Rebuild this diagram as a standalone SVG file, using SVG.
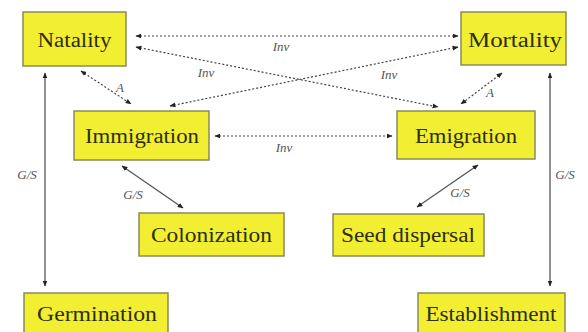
<svg xmlns="http://www.w3.org/2000/svg" width="588" height="332" viewBox="0 0 588 332">
<style>
.box{fill:#f2ef33;stroke:#8c8a5c;stroke-width:1.5}
.t{font-size:20px;fill:#2e2e0a;text-anchor:middle}
.lbl{font-style:italic;font-size:13px;fill:#555;text-anchor:middle}
.dot{stroke:#444;stroke-width:1.2;stroke-dasharray:2 2;fill:none;marker-start:url(#ah);marker-end:url(#ah)}
.sol{stroke:#555;stroke-width:1.3;fill:none;marker-start:url(#ah);marker-end:url(#ah)}
</style>
<defs>
<marker id="ah" viewBox="0 0 10 10" refX="9" refY="5" markerWidth="6" markerHeight="6" markerUnits="userSpaceOnUse" orient="auto-start-reverse">
<path d="M0,1 L10,5 L0,9 z" fill="#222"/>
</marker>
</defs>
<rect width="588" height="332" fill="#fff"/>
<g font-family="Liberation Serif, Times New Roman, serif">
<g id="connectors">
<line class="dot" x1="136" y1="36" x2="458" y2="36"/>
<line class="dot" x1="136" y1="47" x2="438" y2="107"/>
<line class="dot" x1="458" y1="47" x2="170" y2="106"/>
<line class="dot" x1="81" y1="71" x2="131" y2="104"/>
<line class="dot" x1="502" y1="73" x2="461" y2="104"/>
<line class="dot" x1="215" y1="136" x2="392" y2="136"/>
<line class="sol" x1="122" y1="166" x2="183" y2="208"/>
<line class="sol" x1="478" y1="165" x2="417" y2="207"/>
<line class="sol" x1="45" y1="73" x2="45" y2="286"/>
<line class="sol" x1="550" y1="73" x2="550" y2="286"/>
<text class="lbl" x="281" y="51">Inv</text>
<text class="lbl" x="206" y="77">Inv</text>
<text class="lbl" x="389" y="79">Inv</text>
<text class="lbl" x="284" y="152">Inv</text>
<text class="lbl" x="120" y="92">A</text>
<text class="lbl" x="490" y="97">A</text>
<text class="lbl" x="27" y="179">G/S</text>
<text class="lbl" x="565" y="179">G/S</text>
<text class="lbl" x="133" y="199">G/S</text>
<text class="lbl" x="460" y="197">G/S</text>
</g>
<g id="natality"><rect class="box" x="23" y="12" width="103" height="54"/><text class="t" x="74.5" y="47" textLength="74" lengthAdjust="spacingAndGlyphs">Natality</text></g>
<g id="mortality"><rect class="box" x="461" y="12" width="105" height="53"/><text class="t" x="515" y="47" textLength="94" lengthAdjust="spacingAndGlyphs">Mortality</text></g>
<g id="immigration"><rect class="box" x="74" y="111" width="135" height="49"/><text class="t" x="142" y="143" textLength="114" lengthAdjust="spacingAndGlyphs">Immigration</text></g>
<g id="emigration"><rect class="box" x="397" y="111" width="138" height="48"/><text class="t" x="466" y="143" textLength="102" lengthAdjust="spacingAndGlyphs">Emigration</text></g>
<g id="colonization"><rect class="box" x="139" y="213" width="145" height="43"/><text class="t" x="211.5" y="242" textLength="121" lengthAdjust="spacingAndGlyphs">Colonization</text></g>
<g id="seed-dispersal"><rect class="box" x="333" y="214" width="151" height="42"/><text class="t" x="408" y="242" textLength="134" lengthAdjust="spacingAndGlyphs">Seed dispersal</text></g>
<g id="germination"><rect class="box" x="24" y="293" width="144" height="45"/><text class="t" x="97" y="321" textLength="120" lengthAdjust="spacingAndGlyphs">Germination</text></g>
<g id="establishment"><rect class="box" x="418" y="293" width="147" height="45"/><text class="t" x="491" y="321" textLength="131" lengthAdjust="spacingAndGlyphs">Establishment</text></g>
</g>
</svg>
